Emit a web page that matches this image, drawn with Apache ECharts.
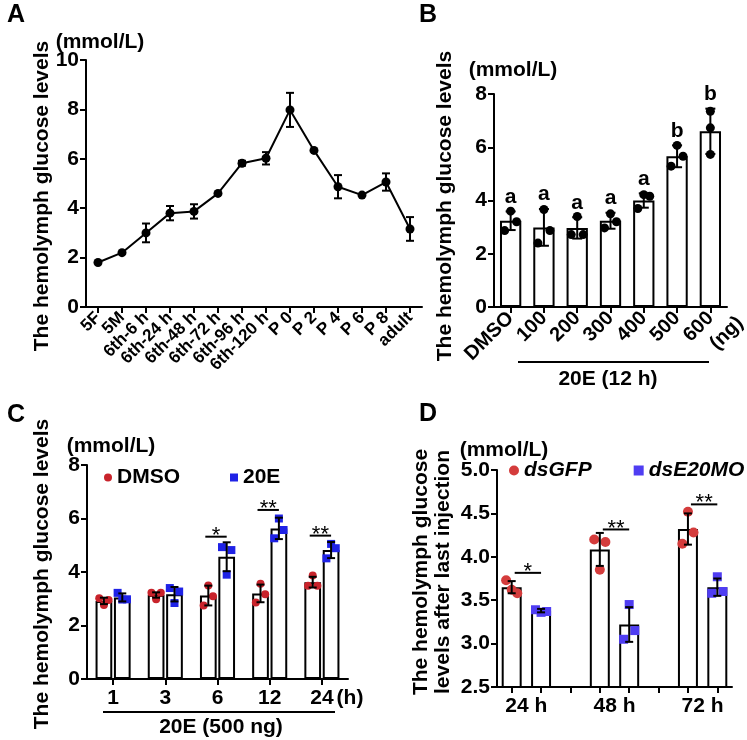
<!DOCTYPE html>
<html><head><meta charset="utf-8">
<script src="https://cdn.jsdelivr.net/npm/echarts@6/dist/echarts.min.js"></script>
<style>html,body{margin:0;padding:0;background:#fff}#c{width:747px;height:740px}</style>
</head><body><div id="c"></div>
<script>
// ---------- Panel A ----------
const stagesA = ['5F','5M','6th-6 h','6th-24 h','6th-48 h','6th-72 h','6th-96 h','6th-120 h','P 0','P 2','P 4','P 6','P 8','adult'];
const meanA = [1.8, 2.2, 3.0, 3.8, 3.87, 4.6, 5.82, 6.02, 7.98, 6.34, 4.87, 4.53, 5.06, 3.16];
const sdA   = [0, 0, 0.38, 0.29, 0.29, 0, 0.1, 0.25, 0.69, 0, 0.47, 0, 0.35, 0.48];
const ticksA = [0, 10, 2];
// ---------- Panel B ----------
const dosesB = ['DMSO','100','200','300','400','500','600'];
const meanB = [3.24, 2.99, 2.97, 3.24, 4.0, 5.66, 6.6];
const sdB   = [0.35, 0.69, 0.4, 0.3, 0.27, 0.41, 0.85];
const pointsB = [[2.87,3.6,3.2],[2.4,3.66,2.87],[2.72,3.4,2.72],[2.97,3.5,3.2],[3.7,4.22,4.16],[5.29,6.07,5.66],[5.73,6.73,7.35]];
const lettersB = ['a','a','a','a','a','b','b'];
const ticksB = [0, 8, 2];
// ---------- Panel C ----------
const timesC = ['1','3','6','12','24'];
const meanDMSO = [2.92, 3.14, 3.12, 3.2, 3.62];
const sdDMSO   = [0.12, 0.1, 0.37, 0.33, 0.2];
const ptsDMSO  = [[3.02,2.77,2.95],[3.22,2.98,3.22],[2.75,3.5,3.09],[2.86,3.56,3.17],[3.49,3.87,3.49]];
const mean20E  = [3.05, 3.17, 4.57, 5.63, 4.82];
const sd20E    = [0.15, 0.27, 0.54, 0.4, 0.3];
const pts20E   = [[3.22,2.97,2.98],[3.4,2.84,3.27],[4.93,3.9,4.82],[5.26,6.0,5.57],[4.51,5.05,4.89]];
const sigC       = ['', '', '*', '**', '**'];
const sigLevelC  = [null, null, 5.32, 6.32, 5.36];
const ticksC = [0, 8, 2];
// ---------- Panel D ----------
const timesD = ['24 h','48 h','72 h'];
const meanGFP = [3.65, 4.085, 4.32];
const sdGFP   = [0.07, 0.19, 0.18];
const ptsGFP  = [[3.73,3.62,3.58],[4.2,3.85,4.17],[4.15,4.52,4.28]];
const meanMO  = [3.38, 3.22, 3.65];
const sdMO    = [0.02, 0.2, 0.1];
const ptsMO   = [[3.39,3.36,3.37],[3.05,3.45,3.15],[3.58,3.77,3.6]];
const sigD      = ['*', '**', '**'];
const sigLevelD = [3.815, 4.315, 4.604];
const ticksD = [2.5, 5.0, 0.5];

// ---------- styling ----------
const FONT = '"Liberation Sans", Arial, Helvetica, sans-serif';
const RED_C = '#c8232b', BLUE_C = '#1f22e6';
const RED_D = '#d43c3c', BLUE_D = '#4f3df2';
const JIT = [-0.28, 0, 0.28];
const jitB = (g, k) => (g === 6 ? 0 : JIT[k]);
const jitAll = (g, k) => JIT[k];
const BW_B = 0.64, BW_C = 0.32, GAP_C = 0.1, BW_D = 0.68;
const offC = s => band => s * BW_C * band * (1 + GAP_C) / 2;
const zero = () => 0;

function yAx(gi, t, fmt) {
  return { gridIndex: gi, type: 'value', min: t[0], max: t[1], interval: t[2],
    axisLine: { show: true, lineStyle: { color: '#000', width: 2 } },
    axisTick: { show: true, length: 6, lineStyle: { color: '#000', width: 2 } },
    axisLabel: { color: '#000', fontSize: 21, fontWeight: 'bold', fontFamily: FONT, margin: 7, formatter: fmt },
    splitLine: { show: false } };
}
function xAx(gi, data, lab) {
  return { gridIndex: gi, type: 'category', data: data, boundaryGap: true,
    axisLine: { show: true, onZero: false, lineStyle: { color: '#000', width: 2 } },
    axisTick: { show: true, alignWithLabel: true, interval: 0, length: 6, lineStyle: { color: '#000', width: 2 } },
    axisLabel: Object.assign({ color: '#000', fontWeight: 'bold', fontFamily: FONT, interval: 0 }, lab) };
}
function errR(offsetFn, cap) {
  return function (params, api) {
    const g = api.value(0), m = api.value(1), s = api.value(2);
    if (!s) return { type: 'group', children: [] };
    const band = api.size([1, 0])[0];
    const x = api.coord([g, m])[0] + offsetFn(band);
    const y1 = api.coord([g, m + s])[1], y2 = api.coord([g, m - s])[1];
    const st = { stroke: '#000', lineWidth: 2 };
    return { type: 'group', children: [
      { type: 'line', shape: { x1: x, y1: y1, x2: x, y2: y2 }, style: st },
      { type: 'line', shape: { x1: x - cap, y1: y1, x2: x + cap, y2: y1 }, style: st },
      { type: 'line', shape: { x1: x - cap, y1: y2, x2: x + cap, y2: y2 }, style: st } ] };
  };
}
function dotR(offsetFn, wFrac, jit, shape, r, color) {
  return function (params, api) {
    const g = api.value(0), v = api.value(1), k = api.value(2);
    const band = api.size([1, 0])[0];
    const p = api.coord([g, v]);
    const cx = p[0] + offsetFn(band) + jit(g, k) * wFrac * band, cy = p[1];
    if (shape === 'circle') return { type: 'circle', shape: { cx: cx, cy: cy, r: r }, style: { fill: color } };
    return { type: 'rect', shape: { x: cx - r, y: cy - r, width: 2 * r, height: 2 * r }, style: { fill: color } };
  };
}
const flat = (pts, slot) => pts.flatMap((arr, i) => arr.map((v, k) => [slot(i), v, k]));
function txt(text, x, y, size, extra) {
  return Object.assign({ type: 'text', x: x, y: y, silent: true,
    style: Object.assign({ text: text, fill: '#000', font: 'bold ' + size + 'px ' + FONT,
      align: 'center', verticalAlign: 'middle', textAlign: 'center', textVerticalAlign: 'middle' }, (extra && extra.style) || {}) },
    (extra && extra.el) || {});
}
function hline(x1, x2, y) { return { type: 'line', silent: true, shape: { x1: x1, y1: y, x2: x2, y2: y }, style: { stroke: '#000', lineWidth: 2 } }; }

// D slot layout: [GFP, MO, gap] per time point
const slotsD = [];
const barGFP = [], barMO = [];
timesD.forEach((t, i) => {
  slotsD.push(t + ' dsGFP', t + ' dsE20MO'); barGFP.push(meanGFP[i], '-'); barMO.push('-', meanMO[i]);
  if (i < timesD.length - 1) { slotsD.push(''); barGFP.push('-'); barMO.push('-'); }
});

const barStyle = { color: '#fff', borderColor: '#000', borderWidth: 2 };
const option = {
  animation: false,
  backgroundColor: '#fff',
  grid: [
    { left: 86, top: 60, width: 336, height: 247, outerBoundsMode: 'none' },
    { left: 494, top: 94, width: 233, height: 213, outerBoundsMode: 'none' },
    { left: 87, top: 465, width: 261, height: 214, outerBoundsMode: 'none' },
    { left: 497, top: 470, width: 235, height: 217, outerBoundsMode: 'none' }
  ],
  xAxis: [
    xAx(0, stagesA, { rotate: 45, fontSize: 17, margin: 8 }),
    xAx(1, dosesB, { rotate: 45, fontSize: 20, margin: 8 }),
    xAx(2, timesC, { fontSize: 21, margin: 9 }),
    xAx(3, slotsD, { show: false })
  ],
  yAxis: [
    yAx(0, ticksA), yAx(1, ticksB), yAx(2, ticksC), yAx(3, ticksD, v => v.toFixed(1))
  ],
  legend: [
    { data: [{ name: 'DMSO', icon: 'circle', itemStyle: { color: RED_C } }, { name: '20E', icon: 'rect', itemStyle: { color: BLUE_C } }],
      left: 104, top: 467, padding: 0, itemWidth: 8, itemHeight: 8, itemGap: 50, selectedMode: false,
      textStyle: { color: '#000', fontSize: 21, fontWeight: 'bold', fontFamily: FONT } },
    { data: [{ name: 'dsGFP', icon: 'circle', itemStyle: { color: RED_D } }, { name: 'dsE20MO', icon: 'rect', itemStyle: { color: BLUE_D } }],
      left: 509, top: 460, padding: 0, itemWidth: 10, itemHeight: 10, itemGap: 42, selectedMode: false,
      textStyle: { color: '#000', fontSize: 21, fontWeight: 'bold', fontStyle: 'italic', fontFamily: FONT } }
  ],
  series: [
    // A
    { name: 'A mean', type: 'line', xAxisIndex: 0, yAxisIndex: 0, data: meanA, symbol: 'circle', symbolSize: 9,
      lineStyle: { color: '#000', width: 2 }, itemStyle: { color: '#000' }, z: 3 },
    { name: 'A sd', type: 'custom', xAxisIndex: 0, yAxisIndex: 0, data: meanA.map((m, i) => [i, m, sdA[i]]), renderItem: errR(zero, 4), z: 4 },
    // B
    { name: 'B mean', type: 'bar', xAxisIndex: 1, yAxisIndex: 1, data: meanB, barWidth: (BW_B * 100) + '%', itemStyle: barStyle, z: 2 },
    { name: 'B pts', type: 'custom', xAxisIndex: 1, yAxisIndex: 1, data: flat(pointsB, i => i), renderItem: dotR(zero, BW_B, jitB, 'circle', 4.5, '#000'), z: 3 },
    { name: 'B sd', type: 'custom', xAxisIndex: 1, yAxisIndex: 1, data: meanB.map((m, i) => [i, m, sdB[i]]), renderItem: errR(zero, 5), z: 4 },
    { name: 'B letters', type: 'custom', xAxisIndex: 1, yAxisIndex: 1, data: meanB.map((m, i) => [i, m + sdB[i]]), z: 4,
      renderItem: (params, api) => { const p = api.coord([api.value(0), api.value(1)]);
        return { type: 'text', x: p[0], y: p[1] - 4, style: { text: lettersB[params.dataIndex], fill: '#000', font: 'bold 21px ' + FONT,
          align: 'center', verticalAlign: 'bottom', textAlign: 'center', textVerticalAlign: 'bottom' } }; } },
    // C
    { name: 'DMSO mean', type: 'bar', xAxisIndex: 2, yAxisIndex: 2, data: meanDMSO, barWidth: (BW_C * 100) + '%', barGap: (GAP_C * 100) + '%', itemStyle: barStyle, z: 2 },
    { name: '20E mean', type: 'bar', xAxisIndex: 2, yAxisIndex: 2, data: mean20E, barWidth: (BW_C * 100) + '%', barGap: (GAP_C * 100) + '%', itemStyle: barStyle, z: 2 },
    { name: 'DMSO', type: 'custom', xAxisIndex: 2, yAxisIndex: 2, data: flat(ptsDMSO, i => i), renderItem: dotR(offC(-1), BW_C, jitAll, 'circle', 4, RED_C), z: 3 },
    { name: '20E', type: 'custom', xAxisIndex: 2, yAxisIndex: 2, data: flat(pts20E, i => i), renderItem: dotR(offC(1), BW_C, jitAll, 'rect', 4, BLUE_C), z: 3 },
    { name: 'DMSO sd', type: 'custom', xAxisIndex: 2, yAxisIndex: 2, data: meanDMSO.map((m, i) => [i, m, sdDMSO[i]]), renderItem: errR(offC(-1), 4), z: 4 },
    { name: '20E sd', type: 'custom', xAxisIndex: 2, yAxisIndex: 2, data: mean20E.map((m, i) => [i, m, sd20E[i]]), renderItem: errR(offC(1), 4), z: 4 },
    { name: 'C sig', type: 'custom', xAxisIndex: 2, yAxisIndex: 2, z: 4,
      data: sigLevelC.map((h, i) => [i, h == null ? 0 : h]),
      renderItem: (params, api) => {
        const i = params.dataIndex; if (!sigC[i]) return { type: 'group', children: [] };
        const band = api.size([1, 0])[0]; const p = api.coord([i, api.value(1)]);
        const x1 = p[0] + offC(-1)(band) - 3, x2 = p[0] + offC(1)(band);
        return { type: 'group', children: [
          { type: 'line', shape: { x1: x1, y1: p[1], x2: x2, y2: p[1] }, style: { stroke: '#000', lineWidth: 2 } },
          { type: 'text', x: (x1 + x2) / 2, y: p[1] - 1, style: { text: sigC[i], fill: '#000', font: '22px ' + FONT,
            align: 'center', verticalAlign: 'middle', textAlign: 'center', textVerticalAlign: 'middle' } } ] };
      } },
    // D
    { name: 'GFP mean', type: 'bar', xAxisIndex: 3, yAxisIndex: 3, data: barGFP, barWidth: (BW_D * 100) + '%', barGap: '-100%', itemStyle: barStyle, z: 2 },
    { name: 'MO mean', type: 'bar', xAxisIndex: 3, yAxisIndex: 3, data: barMO, barWidth: (BW_D * 100) + '%', barGap: '-100%', itemStyle: barStyle, z: 2 },
    { name: 'dsGFP', type: 'custom', xAxisIndex: 3, yAxisIndex: 3, data: flat(ptsGFP, i => 3 * i), renderItem: dotR(zero, BW_D, jitAll, 'circle', 5, RED_D), z: 3 },
    { name: 'dsE20MO', type: 'custom', xAxisIndex: 3, yAxisIndex: 3, data: flat(ptsMO, i => 3 * i + 1), renderItem: dotR(zero, BW_D, jitAll, 'rect', 4.5, BLUE_D), z: 3 },
    { name: 'GFP sd', type: 'custom', xAxisIndex: 3, yAxisIndex: 3, data: meanGFP.map((m, i) => [3 * i, m, sdGFP[i]]), renderItem: errR(zero, 4), z: 4 },
    { name: 'MO sd', type: 'custom', xAxisIndex: 3, yAxisIndex: 3, data: meanMO.map((m, i) => [3 * i + 1, m, sdMO[i]]), renderItem: errR(zero, 4), z: 4 },
    { name: 'D sig', type: 'custom', xAxisIndex: 3, yAxisIndex: 3, z: 4,
      data: sigLevelD.map((h, i) => [3 * i, h]),
      renderItem: (params, api) => {
        const i = params.dataIndex;
        const p1 = api.coord([3 * i, api.value(1)]), p2 = api.coord([3 * i + 1, api.value(1)]);
        const x1 = p1[0] + 3, x2 = p2[0];
        return { type: 'group', children: [
          { type: 'line', shape: { x1: x1, y1: p1[1], x2: x2, y2: p1[1] }, style: { stroke: '#000', lineWidth: 2 } },
          { type: 'text', x: (x1 + x2) / 2, y: p1[1] - 1, style: { text: sigD[i], fill: '#000', font: '22px ' + FONT,
            align: 'center', verticalAlign: 'middle', textAlign: 'center', textVerticalAlign: 'middle' } } ] };
      } },
    { name: 'D labels', type: 'custom', xAxisIndex: 3, yAxisIndex: 3, z: 4,
      data: timesD.map((t, i) => [3 * i, ticksD[0]]),
      renderItem: (params, api) => {
        const i = params.dataIndex;
        const p1 = api.coord([3 * i, api.value(1)]), p2 = api.coord([3 * i + 1, api.value(1)]);
        return { type: 'text', x: (p1[0] + p2[0]) / 2, y: p1[1] + 19, style: { text: timesD[i], fill: '#000', font: 'bold 21px ' + FONT,
          align: 'center', verticalAlign: 'middle', textAlign: 'center', textVerticalAlign: 'middle' } };
      } }
  ],
  graphic: [
    txt('A', 16, 15, 25), txt('B', 428, 15, 25), txt('C', 16, 415, 25), txt('D', 428, 414, 25),
    txt('(mmol/L)', 100, 42, 21), txt('(mmol/L)', 513, 70, 21), txt('(mmol/L)', 111, 446, 21), txt('(mmol/L)', 504, 450, 21),
    txt('The hemolymph glucose levels', 42, 196, 21, { el: { rotation: Math.PI / 2 } }),
    txt('The hemolymph glucose levels', 445, 206, 21, { el: { rotation: Math.PI / 2 } }),
    txt('The hemolymph glucose levels', 42, 574, 21, { el: { rotation: Math.PI / 2 } }),
    txt('The hemolymph glucose\nlevels after last injection', 432, 572, 21, { el: { rotation: Math.PI / 2 }, style: { lineHeight: 21.5 } }),
    hline(518, 709, 362), txt('20E (12 h)', 608, 379, 21),
    txt('(ng)', 740, 320, 20, { el: { rotation: Math.PI / 4 }, style: { align: 'right', textAlign: 'right' } }),
    hline(103, 335, 712), txt('20E (500 ng)', 221, 727, 21),
    txt('(h)', 350, 698, 21)
  ]
};
const chart = echarts.init(document.getElementById('c'), null, { renderer: 'canvas' });
chart.setOption(option);
</script></body></html>
